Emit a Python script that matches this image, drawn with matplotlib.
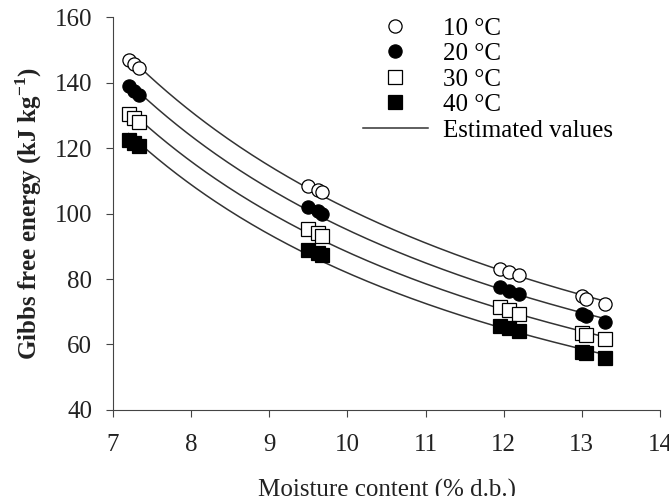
import numpy as np
import matplotlib.pyplot as plt

plt.rcParams["font.family"] = ["Liberation Serif", "DejaVu Serif"]

# moisture content (% d.b.)
moisture = [7.2, 7.27, 7.33, 9.5, 9.62, 9.67, 11.95, 12.07, 12.2, 13.0, 13.05, 13.3]

# Gibbs free energy (kJ kg-1) at each temperature
g10 = [147.0, 145.5, 144.3, 108.5, 107.3, 106.5, 83.0, 82.2, 81.3, 74.8, 74.0, 72.5]
g20 = [138.8, 137.5, 136.3, 102.0, 100.8, 100.0, 77.5, 76.3, 75.5, 69.3, 68.7, 67.0]
g30 = [130.5, 129.3, 128.0, 95.3, 94.0, 93.0, 71.5, 70.4, 69.3, 63.5, 63.0, 61.7]
g40 = [122.5, 121.5, 120.5, 89.0, 88.0, 87.2, 65.8, 65.0, 64.0, 57.8, 57.4, 55.8]

labels = ["10 °C", "20 °C", "30 °C", "40 °C"]
series = [g10, g20, g30, g40]
markers = ["o", "o", "s", "s"]
faces = ["white", "black", "white", "black"]

xticks = [7, 8, 9, 10, 11, 12, 13, 14]
yticks = [40, 60, 80, 100, 120, 140, 160]


def main():
    fig = plt.figure(figsize=(6.69, 4.96), dpi=100)
    ax = fig.add_axes([0.169, 0.1734, 0.8175, 0.7923])

    x = np.array(moisture)
    xs = np.linspace(x.min(), x.max() + 0.05, 200)
    for i, g in enumerate(series):
        # power model fit G = a * M^b
        b, lna = np.polyfit(np.log(x), np.log(np.array(g)), 1)
        ax.plot(xs, np.exp(lna) * xs ** b, color="#333333", lw=1.1, zorder=1,
                label="Estimated values" if i == 3 else None)
    for g, lab, m, fc in zip(series, labels, markers, faces):
        ax.plot(moisture, g, ls="none", marker=m, ms=9.5, mfc=fc, mec="black",
                mew=0.9, label=lab, zorder=2)

    ax.set_xlim(7, 14)
    ax.set_ylim(40, 160)
    ax.set_xticks(xticks)
    ax.set_yticks(yticks)
    for s in ["top", "right"]:
        ax.spines[s].set_visible(False)
    for s in ["left", "bottom"]:
        ax.spines[s].set_color("#444444")
    ax.tick_params(direction="out", length=5, colors="#444444",
                   labelcolor="#222222", labelsize=18)
    ax.tick_params(axis="x", pad=12)
    ax.tick_params(axis="y", pad=10)
    ax.set_ylabel("Gibbs free energy (kJ kg$^{\\mathregular{-1}}$)", fontsize=18,
                  fontweight="bold", color="#222222", labelpad=8)
    ax.set_xlabel("Moisture content (% d.b.)", fontsize=18, color="#222222",
                  labelpad=17)

    h, l = ax.get_legend_handles_labels()
    order = [1, 2, 3, 4, 0]
    ax.legend([h[k] for k in order], [l[k] for k in order], loc="upper left",
              bbox_to_anchor=(0.457, 1.0), frameon=False, fontsize=18,
              labelspacing=0.12, handlelength=2.6, handletextpad=0.6,
              borderpad=0, borderaxespad=0, numpoints=1)

    fig.savefig("out.png", dpi=100)


if __name__ == "__main__":
    main()
